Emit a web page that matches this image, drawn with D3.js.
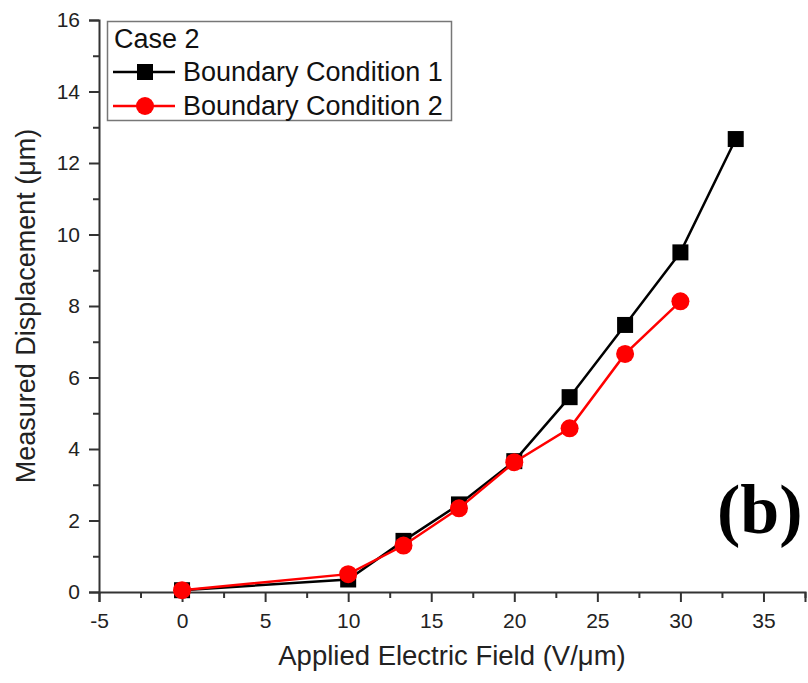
<!DOCTYPE html>
<html>
<head>
<meta charset="utf-8">
<script src="https://cdn.jsdelivr.net/npm/d3@7"></script>
<style>
  body { margin: 0; background: #fff; }
  svg { display: block; font-family: Arial, "Liberation Sans", sans-serif; }
</style>
</head>
<body>
<svg id="chart" width="808" height="683"></svg>
<script>
// Applied field (V/um) vs measured displacement (um)
const fieldBC1 = [0, 10, 13.33, 16.67, 20, 23.33, 26.67, 30, 33.33];
const dispBC1 = [0.05, 0.35, 1.43, 2.45, 3.66, 5.45, 7.47, 9.5, 12.67];
const fieldBC2 = [0, 10, 13.33, 16.67, 20, 23.33, 26.67, 30];
const dispBC2 = [0.05, 0.5, 1.3, 2.34, 3.63, 4.58, 6.66, 8.13];
const xTicks = [-5, 0, 5, 10, 15, 20, 25, 30, 35];
const yTicks = [0, 2, 4, 6, 8, 10, 12, 14, 16];

const FONT = 'Arial, "Liberation Sans", sans-serif';
const svg = d3.select('#chart');
const m = { left: 99, right: 805, top: 20, bottom: 592 };

const x = d3.scaleLinear().domain([-5, 37.5]).range([m.left, m.right]);
const y = d3.scaleLinear().domain([0, 16]).range([m.bottom, m.top]);

// ─── Axes (major + minor ticks, outward) ───
const minorX = d3.range(-5, 37.6, 2.5).filter(v => !xTicks.includes(v));
const minorY = d3.range(1, 16, 2);

const gx = svg.append('g').attr('transform', `translate(0,${m.bottom})`);
gx.call(d3.axisBottom(x).tickValues(minorX).tickSize(6).tickFormat(''));
gx.append('g').call(d3.axisBottom(x).tickValues(xTicks).tickSize(10).tickPadding(11).tickFormat(d => String(d)));

const gy = svg.append('g').attr('transform', `translate(${m.left},0)`);
gy.call(d3.axisLeft(y).tickValues(minorY).tickSize(6).tickFormat(''));
gy.append('g').call(d3.axisLeft(y).tickValues(yTicks).tickSize(10).tickPadding(9).tickFormat(d => String(d)));

svg.selectAll('.domain').attr('stroke', '#333').attr('stroke-width', 2);
gx.select('g .domain').attr('stroke', 'none');
gy.select('g .domain').attr('stroke', 'none');
svg.selectAll('.tick line').attr('stroke', '#333').attr('stroke-width', 2);
svg.selectAll('.tick text')
  .attr('font-size', 21)
  .attr('font-family', FONT)
  .attr('fill', '#222');

// Axis titles
svg.append('text')
  .attr('x', 452)
  .attr('y', 665)
  .attr('text-anchor', 'middle')
  .attr('font-size', 27.5)
  .attr('fill', '#222')
  .text('Applied Electric Field (V/\u03bcm)');

svg.append('text')
  .attr('transform', `translate(35,${(m.top + m.bottom) / 2}) rotate(-90)`)
  .attr('text-anchor', 'middle')
  .attr('font-size', 27)
  .attr('fill', '#222')
  .text('Measured Displacement (\u03bcm)');

// ─── Series ───
const series = [
  { name: 'Boundary Condition 1', xs: fieldBC1, ys: dispBC1, color: '#000', shape: 'square' },
  { name: 'Boundary Condition 2', xs: fieldBC2, ys: dispBC2, color: '#ff0000', shape: 'circle' },
];

const line = d3.line().x(d => x(d[0])).y(d => y(d[1]));

function marker(g, shape, color, cx, cy) {
  if (shape === 'square') {
    g.append('rect')
      .attr('x', cx - 8).attr('y', cy - 8)
      .attr('width', 16).attr('height', 16)
      .attr('fill', color);
  } else {
    g.append('circle')
      .attr('cx', cx).attr('cy', cy).attr('r', 9)
      .attr('fill', color);
  }
}

series.forEach(s => {
  const pts = s.xs.map((v, i) => [v, s.ys[i]]);
  svg.append('path')
    .datum(pts)
    .attr('d', line)
    .attr('fill', 'none')
    .attr('stroke', s.color)
    .attr('stroke-width', 2.5);
  const g = svg.append('g');
  pts.forEach(p => marker(g, s.shape, s.color, x(p[0]), y(p[1])));
});

// ─── Legend ───
const lg = svg.append('g');
lg.append('rect')
  .attr('x', 107.5).attr('y', 21.5)
  .attr('width', 344).attr('height', 99)
  .attr('fill', '#fff')
  .attr('stroke', '#777')
  .attr('stroke-width', 1.5);
lg.append('text')
  .attr('x', 114).attr('y', 48)
  .attr('font-size', 27)
  .attr('fill', '#111')
  .text('Case 2');
series.forEach((s, i) => {
  const cy = 72 + i * 34;
  lg.append('line')
    .attr('x1', 113).attr('x2', 175)
    .attr('y1', cy).attr('y2', cy)
    .attr('stroke', s.color).attr('stroke-width', 2.5);
  marker(lg, s.shape, s.color, 145, cy);
  lg.append('text')
    .attr('x', 183).attr('y', cy + 9)
    .attr('font-size', 27)
    .attr('fill', '#111')
    .text(s.name);
});

// Panel label
svg.append('text')
  .attr('x', 717).attr('y', 533)
  .attr('font-family', '"Liberation Serif", "Times New Roman", serif')
  .attr('font-weight', 'bold')
  .attr('font-size', 70)
  .attr('fill', '#000')
  .text('(b)');
</script>
</body>
</html>
